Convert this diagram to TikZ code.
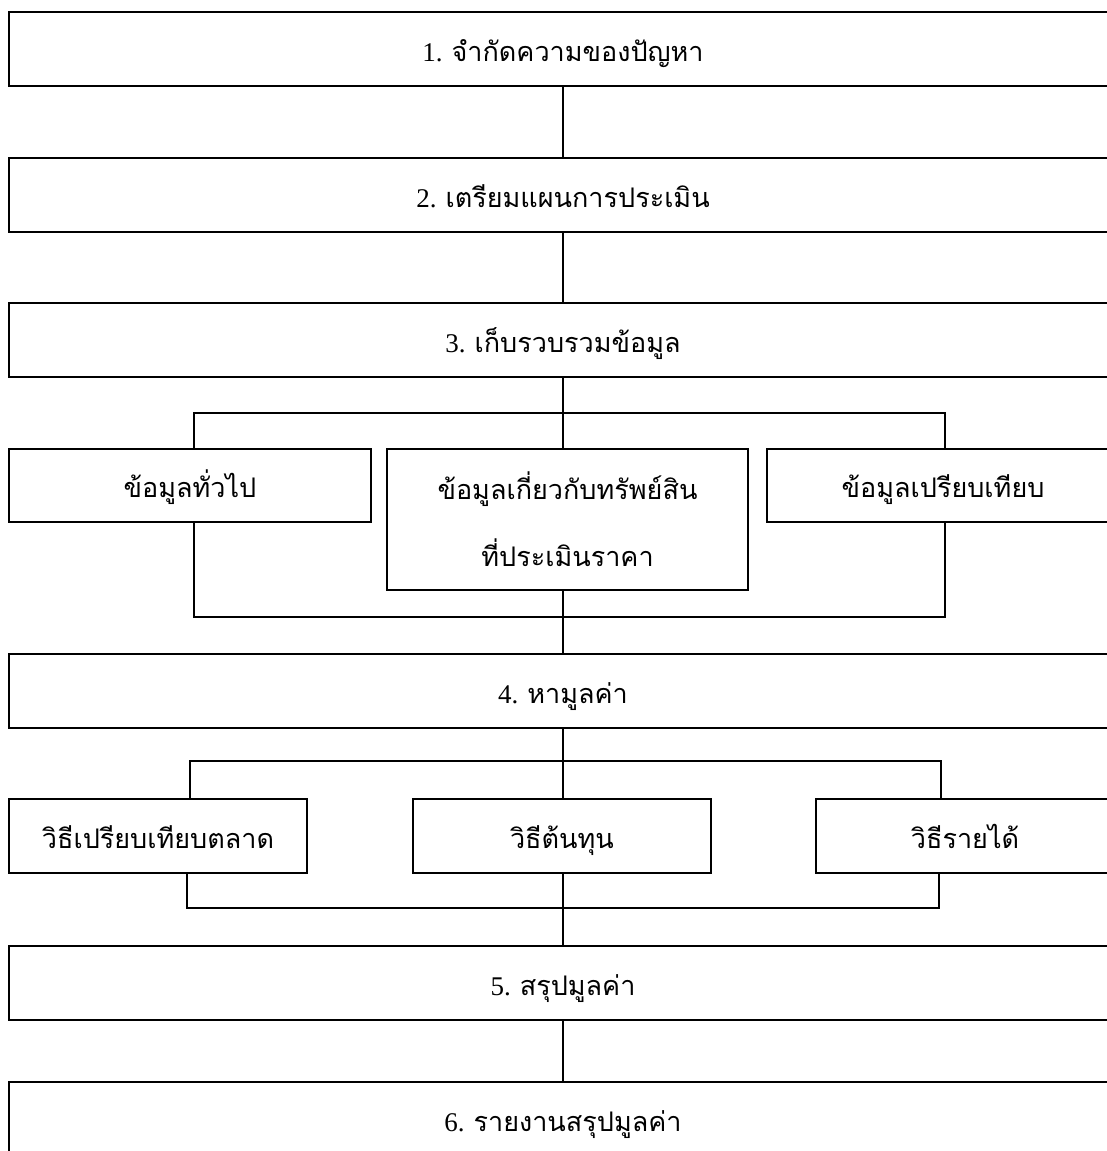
\documentclass[tikz,border=0pt]{standalone}
\usepackage{fontspec}
\setmainfont{Liberation Serif}
\newfontfamily\thai[Script=Thai]{Loma}
\begin{document}
\begin{tikzpicture}[x=1pt,y=-1pt,
  every node/.style={font=\fontsize{27}{64}\selectfont, inner sep=0pt},
  onerow/.style={text height=30pt, text depth=6pt},
  stagebox/.style={draw, onerow, line width=1.1pt, minimum width=1108pt, minimum height=74pt},
  subbox/.style={draw, line width=1.1pt, minimum height=73pt},
  link/.style={line width=1.1pt}]
\useasboundingbox (0,0) rectangle (1107,1151);
\clip (0,0) rectangle (1107,1151);

% main stages (they run past the right edge)
\node[stagebox] (b1) at (563,49)   {1. {\thai จำกัดความของปัญหา}};
\node[stagebox] (b2) at (563,195)  {2. {\thai เตรียมแผนการประเมิน}};
\node[stagebox] (b3) at (563,340)  {3. {\thai เก็บรวบรวมข้อมูล}};
\node[stagebox] (b4) at (563,691)  {4. {\thai หามูลค่า}};
\node[stagebox] (b5) at (563,983)  {5. {\thai สรุปมูลค่า}};
\node[stagebox] (b6) at (563,1119) {6. {\thai รายงานสรุปมูลค่า}};

% data to collect
\node[subbox, onerow, minimum width=362pt] (g1) at (190,485.5) {\thai ข้อมูลทั่วไป};
\node[subbox, minimum width=361pt, minimum height=141pt, align=center] (g2) at (567.5,519.5)
  {\thai ข้อมูลเกี่ยวกับทรัพย์สิน\\[3pt]\thai ที่ประเมินราคา};
\node[subbox, onerow, minimum width=352pt] (g3) at (943,485.5) {\thai ข้อมูลเปรียบเทียบ};

% valuation approaches
\node[subbox, onerow, minimum width=298pt, minimum height=74pt] (m1) at (158,836) {\thai วิธีเปรียบเทียบตลาด};
\node[subbox, onerow, minimum width=298pt, minimum height=74pt] (m2) at (562,836) {\thai วิธีต้นทุน};
\node[subbox, onerow, minimum width=298pt, minimum height=74pt] (m3) at (965,836) {\thai วิธีรายได้};

% bracket corners
\coordinate (tl) at (194,413);
\coordinate (tr) at (945,413);
\coordinate (bl) at (194,617);
\coordinate (br) at (945,617);
\coordinate (ul) at (190,761);
\coordinate (ur) at (941,761);
\coordinate (dl) at (187,908);
\coordinate (dr) at (939,908);

% spine
\draw[link] (b1.south) -- (b2.north);
\draw[link] (b2.south) -- (b3.north);
\draw[link] (b3.south) -- (b3.south |- g2.north);
\draw[link] (b3.south |- g2.south) -- (b4.north);
\draw[link] (b4.south) -- (b4.south |- m2.north);
\draw[link] (b4.south |- m2.south) -- (b5.north);
\draw[link] (b5.south) -- (b6.north);

% branches around the data boxes
\draw[link] (tl |- g1.north) -- (tl) -- (tr) -- (tr |- g3.north);
\draw[link] (bl |- g1.south) -- (bl) -- (br) -- (br |- g3.south);

% branches around the approach boxes
\draw[link] (ul |- m1.north) -- (ul) -- (ur) -- (ur |- m3.north);
\draw[link] (dl |- m1.south) -- (dl) -- (dr) -- (dr |- m3.south);
\end{tikzpicture}
\end{document}
